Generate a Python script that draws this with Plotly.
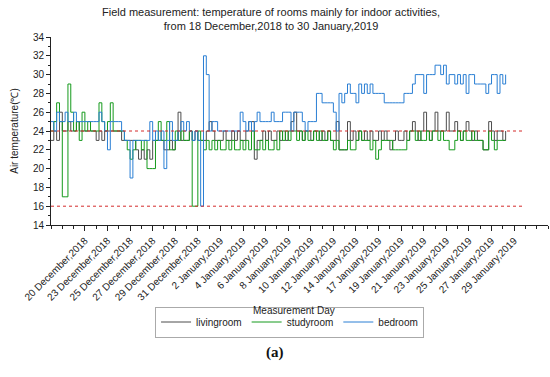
import plotly.graph_objects as go

# ---- data (readings every 6 hours, starting 18 Dec 2018) ----
livingroom = [
    23,24,23,26, 24,24,25,24, 24,25,24,24, 24,24,24,24, 23,24,23,24,
    24,24,24,24, 24,23,23,23, 23,23,22,21, 22,21,22,21, 23,23,23,23,
    22,22,23,22, 23,26,23,23, 23,24,23,24, 23,23,23,24, 25,24,23,23,
    23,24,23,23, 24,23,24,23, 23,24,25,25, 21,23,23,24, 23,24,23,23,
    24,23,24,23, 24,25,26,24, 24,23,24,24, 23,24,24,23, 24,23,24,23,
    23,25,22,22, 22,25,23,24, 23,24,23,24, 23,24,23,23, 24,23,24,23,
    22,23,24,23, 23,24,23,24, 25,24,23,24, 26,24,23,24, 26,24,24,24,
    26,24,24,25, 24,23,24,25, 24,23,24,23, 23,22,22,25, 24,23,24,24,
    23,24,
]
studyroom = [
    24,25,27,25, 17,17,29,26, 24,25,23,26, 24,25,24,24, 24,27,25,24,
    25,27,24,24, 24,24,23,22, 21,22,23,23, 22,23,20,20, 20,23,25,23,
    23,25,22,22, 24,23,24,23, 23,24,16,16, 24,23,22,23, 22,23,22,23,
    22,22,23,22, 23,22,22,23, 22,23,22,24, 22,22,23,22, 23,22,22,23,
    22,24,23,24, 23,24,24,23, 24,23,24,23, 23,24,23,24, 23,23,24,23,
    22,23,22,22, 22,23,22,22, 23,24,23,23, 23,22,23,21, 22,23,23,23,
    23,22,22,22, 22,22,23,24, 24,23,24,23, 23,24,23,24, 24,23,24,23,
    23,22,22,23, 24,23,24,23, 23,24,23,23, 23,22,22,24, 23,22,23,23,
    23,23,
]
bedroom = [
    25,24,26,25, 25,26,25,25, 26,25,25,25, 25,25,25,25, 25,26,25,24,
    22,25,25,25, 25,24,23,23, 19,23,23,23, 23,23,23,25, 23,24,23,24,
    20,23,25,23, 23,24,25,24, 25,24,23,24, 23,16,32,30, 24,25,25,24,
    24,24,24,24, 24,24,24,26, 25,24,25,24, 25,26,25,25, 25,25,26,25,
    25,25,26,26, 26,24,26,26, 26,25,24,25, 25,25,28,28, 27,27,27,27,
    26,24,28,27, 28,29,28,28, 27,29,28,29, 28,29,28,28, 28,28,27,27,
    27,27,27,27, 27,28,28,28, 29,30,30,30, 28,30,30,30, 31,31,30,31,
    29,30,30,29, 30,29,30,28, 30,30,29,29, 29,29,28,29, 30,30,28,30,
    29,30,
]
sample_step_days = 0.25
days = [i * sample_step_days for i in range(len(bedroom))]

reference_levels = [24, 16]
reference_span = [0, 41.8]

tick_days = [3, 5, 7, 9, 11, 13, 15, 17, 19, 21, 23, 25, 27, 29, 31, 33, 35, 37, 39, 41]
tick_labels = [
    "20 December,2018", "23 December,2018", "25 December,2018", "27 December,2018",
    "29 December,2018", "31 December,2018", "2 January,2019", "4 January,2019",
    "6 January,2019", "8 January,2019", "10 January,2019", "12 January,2019",
    "14 January,2019", "17 January,2019", "19 January,2019", "21 January,2019",
    "23 January,2019", "25 January,2019", "27 January,2019", "29 January,2019",
]

FONT = "Arial, 'Liberation Sans', sans-serif"

fig = go.Figure()
fig.add_trace(go.Scatter(x=days, y=livingroom, mode="lines", name="livingroom",
                         line=dict(color="#4d4d4d", width=1, shape="hv")))
fig.add_trace(go.Scatter(x=days, y=studyroom, mode="lines", name="studyroom",
                         line=dict(color="#159a1c", width=1, shape="hv")))
fig.add_trace(go.Scatter(x=days, y=bedroom, mode="lines", name="bedroom",
                         line=dict(color="#2a7fd4", width=1, shape="hv")))
for lvl in reference_levels:
    fig.add_trace(go.Scatter(x=reference_span, y=[lvl, lvl], mode="lines",
                             showlegend=False, hoverinfo="skip",
                             line=dict(color="#d42a2a", width=1, dash="dot")))

fig.update_layout(
    width=550, height=377,
    margin=dict(l=51, r=2, t=37, b=152),
    paper_bgcolor="white", plot_bgcolor="white",
    font=dict(family=FONT, size=10, color="#222"),
    showlegend=True,
    legend=dict(
        orientation="h", x=0.48, xanchor="center", y=-0.516, yanchor="middle",
        bordercolor="#aaaaaa", borderwidth=1, bgcolor="white",
        font=dict(family=FONT, size=10, color="#222"),
        itemwidth=30, tracegroupgap=0,
    ),
)
fig.update_xaxes(
    range=[0, 44], tickmode="array", tickvals=tick_days, ticktext=tick_labels,
    tickangle=-45, ticks="outside", ticklen=5, tickcolor="#222",
    showline=True, linecolor="#222", linewidth=1, showgrid=False, zeroline=False,
    tickfont=dict(family=FONT, size=10, color="#222"),
    minor=dict(dtick=1, tick0=0, ticks="outside", ticklen=3, tickcolor="#222", showgrid=False),
)
fig.update_yaxes(
    range=[14, 34], tickmode="linear", tick0=14, dtick=2,
    ticks="outside", ticklen=4, tickcolor="#222",
    showline=True, linecolor="#222", linewidth=1, showgrid=False, zeroline=False,
    tickfont=dict(family=FONT, size=10, color="#222"),
    minor=dict(dtick=1, ticks="outside", ticklen=2, tickcolor="#222", showgrid=False),
    title=dict(text="Air temperature(℃)", standoff=12, font=dict(family=FONT, size=10, color="#222")),
)
fig.add_annotation(text="Field measurement: temperature of rooms mainly for indoor activities,<br>from 18 December,2018 to 30 January,2019",
                   xref="paper", yref="paper", x=0.443, y=1.098, xanchor="center", yanchor="middle",
                   showarrow=False, align="center",
                   font=dict(family=FONT, size=11, color="#222"))
fig.add_annotation(text="Measurement Day", xref="paper", yref="paper",
                   x=0.489, y=-0.457, xanchor="center", yanchor="middle", showarrow=False,
                   font=dict(family=FONT, size=10, color="#222"))
fig.add_annotation(text="<b>(a)</b>", xref="paper", yref="paper",
                   x=0.451, y=-0.676, xanchor="center", yanchor="middle", showarrow=False,
                   font=dict(family="'Liberation Serif', serif", size=15, color="#111"))

fig.write_html("out.html", config={"displayModeBar": False},
               post_script="document.body.style.margin='0';document.body.style.overflow='hidden';")
